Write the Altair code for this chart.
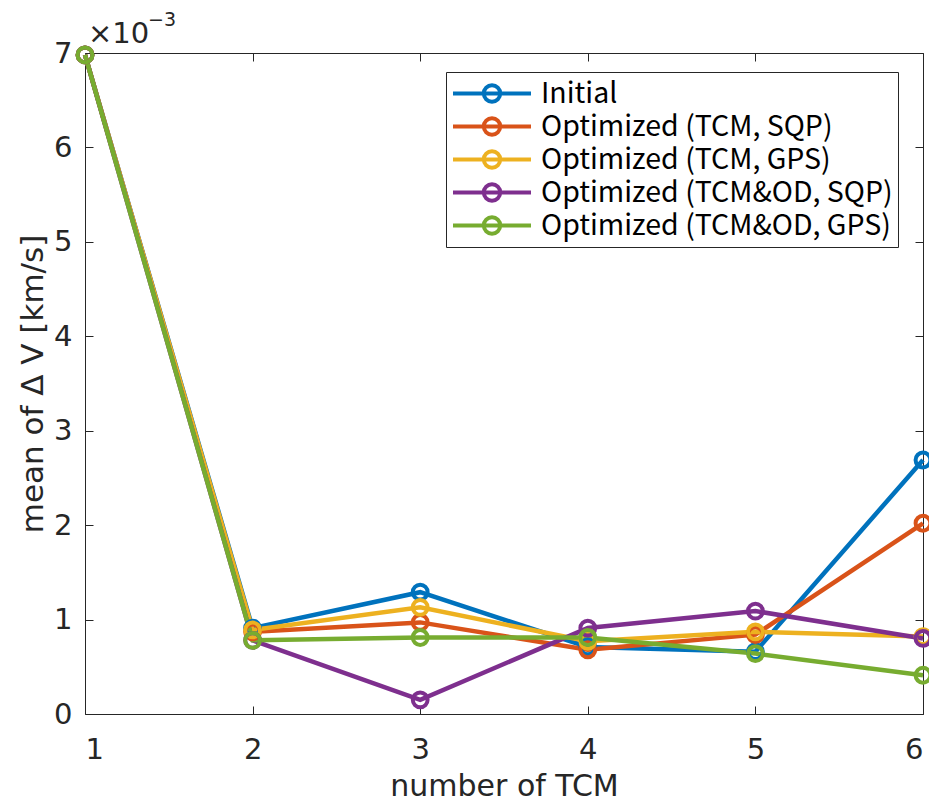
import altair as alt
import pandas as pd

# Mean delta-V per number of TCM, in units of 1e-3 km/s
tcm_counts = [1, 2, 3, 4, 5, 6]
series_names = [
    "Initial",
    "Optimized (TCM, SQP)",
    "Optimized (TCM, GPS)",
    "Optimized (TCM&OD, SQP)",
    "Optimized (TCM&OD, GPS)",
]
initial = [6.98, 0.91, 1.29, 0.71, 0.66, 2.69]
tcm_sqp = [6.98, 0.87, 0.97, 0.68, 0.84, 2.02]
tcm_gps = [6.98, 0.89, 1.13, 0.77, 0.87, 0.82]
tcmod_sqp = [6.98, 0.78, 0.15, 0.91, 1.09, 0.80]
tcmod_gps = [6.98, 0.78, 0.81, 0.81, 0.64, 0.41]
colors = ["#0072BD", "#D95319", "#EDB120", "#7E2F8E", "#77AC30"]
x_ticks = [1, 2, 3, 4, 5, 6]
y_ticks = [0, 1, 2, 3, 4, 5, 6, 7]

rows = []
for name, vals in zip(series_names, [initial, tcm_sqp, tcm_gps, tcmod_sqp, tcmod_gps]):
    for n, v in zip(tcm_counts, vals):
        rows.append({"series": name, "n": n, "dv": v})
df = pd.DataFrame(rows)

AXFONT = "DejaVu Sans"
LEGFONT = "Noto Sans CJK JP"
AX = "#262626"
W, H = 838, 661

xs = alt.Scale(domain=[1, 6], nice=False, zero=False)
ys = alt.Scale(domain=[0, 7], nice=False)

# legend glyph: a line with an open circle on it
r = 0.21
glyph = (f"M-1,0L1,0"
         f"M{r},0A{r},{r},0,1,1,{-r},0A{r},{r},0,1,1,{r},0")

color = alt.Color(
    "series:N",
    scale=alt.Scale(domain=series_names, range=colors),
    legend=alt.Legend(
        title=None, orient="none", legendX=361, legendY=19,
        symbolType=glyph, symbolSize=6084, symbolStrokeWidth=4,
        symbolFillColor="transparent", clipHeight=33, rowPadding=0,
        labelFont=LEGFONT, labelFontSize=28.5, labelColor="black",
        labelOffset=8, labelLimit=600, padding=5,
        strokeColor=AX, fillColor="white",
    ),
)

base = alt.Chart(df)

lines = base.mark_line(strokeWidth=4.5).encode(
    x=alt.X("n:Q", scale=xs, title="number of TCM",
            axis=alt.Axis(values=x_ticks, format="d", ticks=False, domain=False,
                          grid=False, labelPadding=21, labelFont=AXFONT,
                          labelFontSize=29, labelColor=AX, titleFont=AXFONT,
                          titleFontSize=30, titleFontWeight="normal",
                          titleColor=AX, titlePadding=7)),
    y=alt.Y("dv:Q", scale=ys, title="mean of Δ V [km/s]",
            axis=alt.Axis(values=y_ticks, format="d", ticks=False, domain=False,
                          grid=False, labelPadding=13, labelFont=AXFONT,
                          labelFontSize=29, labelColor=AX, titleFont=AXFONT,
                          titleFontSize=31, titleFontWeight="normal",
                          titleColor=AX, titlePadding=4)),
    color=color,
)

inner_tick = dict(labels=False, domain=False, grid=False, ticks=True,
                  tickSize=8, tickColor=AX, tickWidth=1, title=None)

points = base.mark_point(filled=False, size=220, strokeWidth=4, opacity=1).encode(
    x=alt.X("n:Q", scale=xs,
            axis=alt.Axis(orient="top", offset=-H, values=x_ticks, **inner_tick)),
    y=alt.Y("dv:Q", scale=ys,
            axis=alt.Axis(orient="right", offset=-W, values=y_ticks, **inner_tick)),
    color=color,
)

box_ticks = base.mark_point(opacity=0).encode(
    x=alt.X("n:Q", scale=xs,
            axis=alt.Axis(orient="bottom", offset=-H, values=x_ticks, **inner_tick)),
    y=alt.Y("dv:Q", scale=ys,
            axis=alt.Axis(orient="left", offset=-W, values=y_ticks, **inner_tick)),
)

exp_base = alt.Chart(pd.DataFrame({"t": ["×10"]})).mark_text(
    font=AXFONT, fontSize=29, color=AX, align="left", baseline="middle"
).encode(x=alt.value(3), y=alt.value(-19), text="t:N")

exp_power = alt.Chart(pd.DataFrame({"t": ["−3"]})).mark_text(
    font=AXFONT, fontSize=19, color=AX, align="left", baseline="middle"
).encode(x=alt.value(63), y=alt.value(-33), text="t:N")

chart = (
    alt.layer(lines, points, box_ticks, exp_base, exp_power)
    .resolve_axis(x="independent", y="independent")
    .properties(
        width=W, height=H,
        padding={"left": 85, "top": 53, "right": 6, "bottom": 90},
        autosize=alt.AutoSizeParams(type="none"),
        background="white",
    )
    .configure_view(stroke=AX, strokeWidth=1)
)

chart.save("out.html", embed_options={"renderer": "svg", "actions": False})
